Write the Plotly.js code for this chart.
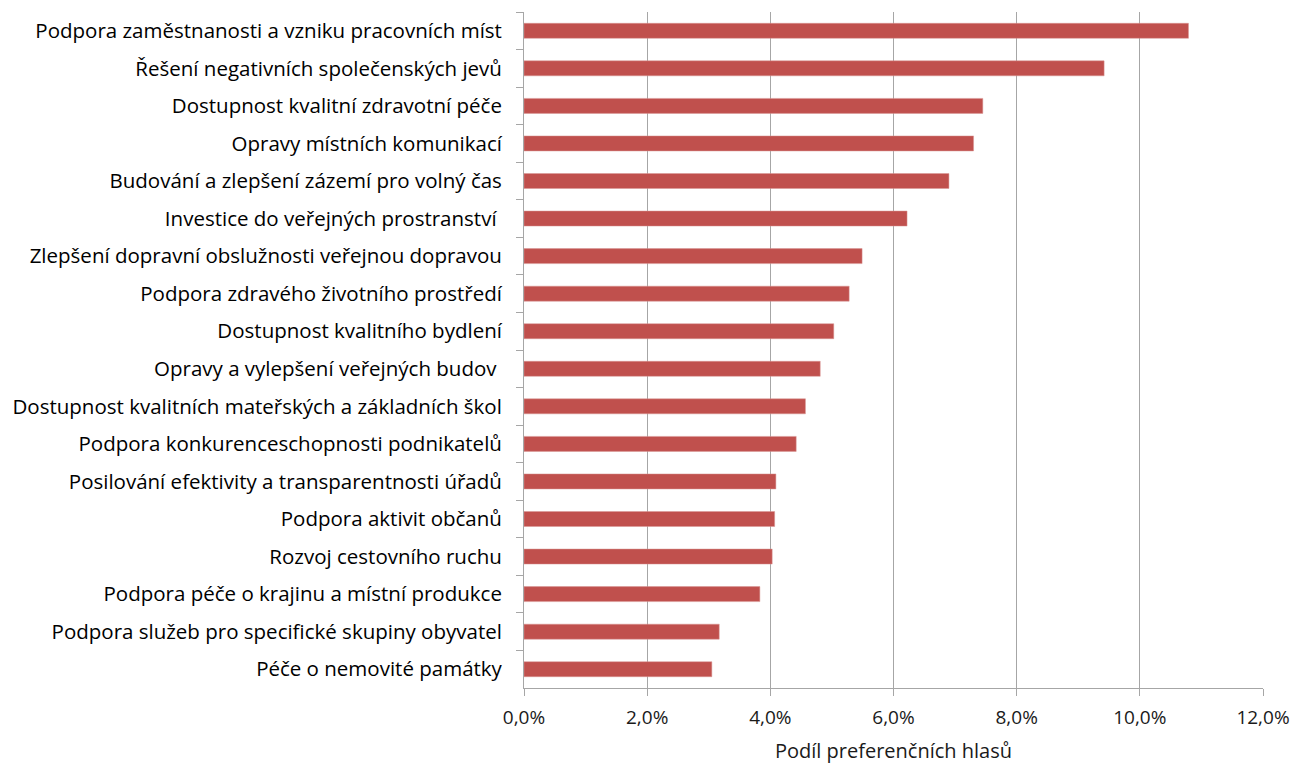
<!DOCTYPE html>
<html>
<head>
<meta charset="utf-8">
<script src="https://cdn.plot.ly/plotly-3.0.1.min.js"></script>
<style>html,body{margin:0;padding:0;background:#fff;}#chart{width:1297px;height:766px;}</style>
</head>
<body>
<div id="chart"></div>
<script>
const categories = [
  "Podpora zaměstnanosti a vzniku pracovních míst",
  "Řešení negativních společenských jevů",
  "Dostupnost kvalitní zdravotní péče",
  "Opravy místních komunikací",
  "Budování a zlepšení zázemí pro volný čas",
  "Investice do veřejných prostranství ",
  "Zlepšení dopravní obslužnosti veřejnou dopravou",
  "Podpora zdravého životního prostředí",
  "Dostupnost kvalitního bydlení",
  "Opravy a vylepšení veřejných budov ",
  "Dostupnost kvalitních mateřských a základních škol",
  "Podpora konkurenceschopnosti podnikatelů",
  "Posilování efektivity a transparentnosti úřadů",
  "Podpora aktivit občanů",
  "Rozvoj cestovního ruchu",
  "Podpora péče o krajinu a místní produkce",
  "Podpora služeb pro specifické skupiny obyvatel",
  "Péče o nemovité památky"
];
const values = [0.1079, 0.0942, 0.0745, 0.0730, 0.0690, 0.0622, 0.0549, 0.0528, 0.0503, 0.0481, 0.0457, 0.0442, 0.0409, 0.0407, 0.0403, 0.0383, 0.0317, 0.0305];
const xTickVals = [0, 0.02, 0.04, 0.06, 0.08, 0.10, 0.12];
const xTickText = ["0,0%", "2,0%", "4,0%", "6,0%", "8,0%", "10,0%", "12,0%"];
const xTitle = "Podíl preferenčních hlasů";

const font = "'Open Sans', Lato, sans-serif";

Plotly.newPlot("chart", [{
  type: "bar",
  orientation: "h",
  y: categories,
  x: values,
  marker: {color: "#C0504D", line: {color: "#D99694", width: 0.5}},
  hoverinfo: "x+y"
}], {
  width: 1297, height: 766,
  margin: {l: 524, r: 34, t: 12, b: 78, pad: 0},
  paper_bgcolor: "#fff", plot_bgcolor: "#fff",
  bargap: 0.6,
  showlegend: false,
  font: {family: font, size: 20, color: "#000"},
  xaxis: {
    range: [0, 0.12],
    tickvals: xTickVals, ticktext: xTickText,
    showgrid: true, gridcolor: "#A6A6A6", gridwidth: 1,
    zeroline: false,
    showline: true, linecolor: "#A6A6A6", linewidth: 1,
    ticks: "outside", ticklen: 7, tickcolor: "#A6A6A6",
    ticklabelstandoff: 5,
    tickfont: {family: font, size: 19, color: "#1a1a1a"},
    title: {text: xTitle, font: {family: font, size: 20, color: "#1a1a1a"}, standoff: 15},
    fixedrange: true
  },
  yaxis: {
    type: "category",
    autorange: "reversed",
    showline: true, linecolor: "#A6A6A6", linewidth: 1,
    ticks: "outside", ticklen: 7, tickcolor: "#A6A6A6",
    tickson: "boundaries",
    showgrid: false,
    ticklabelstandoff: 17,
    tickfont: {family: font, size: 20.5, color: "#000"},
    fixedrange: true
  }
}, {displayModeBar: false, staticPlot: true});
</script>
</body>
</html>
